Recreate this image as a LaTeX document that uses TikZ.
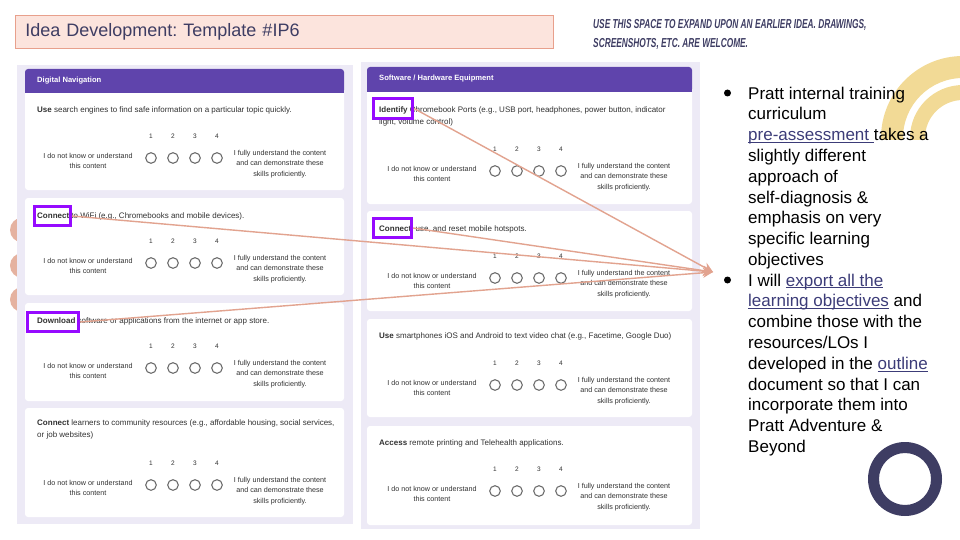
\documentclass[tikz,border=0pt]{standalone}
\usepackage{fontspec}
\setmainfont{Liberation Sans}
\newfontfamily\capfont[FakeStretch=0.64]{Liberation Sans}
\usetikzlibrary{arrows.meta}
\frenchspacing

\definecolor{panelbg}{RGB}{237,234,246}
\definecolor{headpurple}{RGB}{95,68,172}
\definecolor{hilite}{RGB}{150,10,255}
\definecolor{arrowsalmon}{RGB}{226,163,143}
\definecolor{blush}{RGB}{229,178,160}
\definecolor{titlefill}{RGB}{252,228,221}
\definecolor{titleline}{RGB}{232,160,140}
\definecolor{navy}{RGB}{62,61,99}
\definecolor{gold}{RGB}{242,218,150}
\definecolor{linkblue}{RGB}{60,60,120}
\definecolor{formtext}{RGB}{50,50,50}
\definecolor{radiogray}{RGB}{110,110,110}

% underlined link text
\newcommand{\lnk}[1]{\textcolor{linkblue}{\setbox0\hbox{#1}\rlap{\rule[-2.2pt]{\wd0}{0.8pt}}\box0}}

\tikzset{
  card/.style={fill=white, rounded corners=3pt},
  headtext/.style={anchor=west, inner sep=0, text=white, font=\fontsize{7.6}{9}\selectfont\bfseries},
  question/.style={anchor=west, inner sep=0, align=left, text=formtext, font=\fontsize{8}{12}\selectfont},
  scalenum/.style={inner sep=0, text=formtext, font=\fontsize{6.5}{8}\selectfont},
  radio/.style={draw=radiogray, line width=1.1pt},
  lowlabel/.style={inner sep=0, align=center, text=formtext, font=\fontsize{7.2}{10.2}\selectfont},
  highlabel/.style={inner sep=0, align=center, text=formtext, font=\fontsize{7.2}{10.2}\selectfont},
  hibox/.style={draw=hilite, line width=3pt, inner sep=0},
  pointer/.style={draw=arrowsalmon, line width=1.4pt, -{Stealth[length=10pt, width=10pt]}},
  bullettext/.style={inner sep=0, align=left, font=\fontsize{17}{20.8}\selectfont},
  dot/.style={circle, fill=black, inner sep=0, minimum size=7pt}
}

% one row of the 1-4 rating scale: #1 name prefix, #2 left edge of card, #3 y of radio buttons
\newcommand{\ratingrow}[3]{%
  \node[scalenum] (#1one)   at (#2+126,#3-22) {1};
  \node[scalenum] (#1two)   at (#2+148,#3-22) {2};
  \node[scalenum] (#1three) at (#2+170,#3-22) {3};
  \node[scalenum] (#1four)  at (#2+192,#3-22) {4};
  \draw[radio] (#2+126,#3) circle (5.3) (#2+148,#3) circle (5.3)
               (#2+170,#3) circle (5.3) (#2+192,#3) circle (5.3);
  \node[lowlabel]  (#1low)  at (#2+63,#3+3) {I do not know or understand\\this content};
  \node[highlabel] (#1high) at (#2+255,#3+6) {I fully understand the content\\and can demonstrate these\\skills proficiently.};
}

\begin{document}
\begin{tikzpicture}[x=1pt,y=-1pt]
	\useasboundingbox (0,0) rectangle (960,540);

	%blush circles behind the left panel
	\fill[blush] (22.5,230) circle (12.5);
	\fill[blush] (22.5,265.5) circle (12.5);
	\fill[blush] (22.5,299.5) circle (12.5);

	%gold arcs
	\begin{scope}
		\clip (860,40) rectangle (960,140);
		\fill[gold, even odd rule] (963,138) circle (82) (963,138) circle (60);
		\fill[gold, even odd rule] (963,138) circle (53) (963,138) circle (38);
	\end{scope}

	%navy ring
	\fill[navy, even odd rule] (905,479) circle (37) (905,479) circle (26);

	%title
	\node[anchor=north west, fill=titlefill, draw=titleline, line width=0.8pt, text width=518pt, inner xsep=10pt, inner ysep=0, minimum height=33pt, text=navy, font=\fontsize{18}{22}\selectfont] (title) at (15,15) {Idea Development: Template \#IP6};

	%caption
	\node[anchor=north west, inner sep=0, align=left, text=navy, font=\capfont\bfseries\itshape\fontsize{13}{19}\selectfont] (hint) at (593,19) {USE THIS SPACE TO EXPAND UPON AN EARLIER IDEA. DRAWINGS,\\SCREENSHOTS, ETC. ARE WELCOME.};

	%left panel
	\fill[panelbg] (17,65) rectangle (353,524);
	\fill[card] (25,69) rectangle (344,190);
	\fill[headpurple, rounded corners=3pt] (25,69) rectangle (344,93);
	\fill[headpurple] (25,82) rectangle (344,93);
	\fill[card] (25,198) rectangle (344,295);
	\fill[card] (25,303) rectangle (344,401);
	\fill[card] (25,408) rectangle (344,517);
	\node[headtext] (digiHead) at (37,81) {Digital Navigation};
	\node[question] (useSearch) at (37,110) {\textbf{Use} search engines to find safe information on a particular topic quickly.};
	\ratingrow{search}{25}{158}
	\node[question] (connectWifi) at (37,216) {\textbf{Connect} to WiFi (e.g., Chromebooks and mobile devices).};
	\ratingrow{wifi}{25}{263}
	\node[question] (download) at (37,321) {\textbf{Download} software or applications from the internet or app store.};
	\ratingrow{apps}{25}{368}
	\node[question, anchor=north west] (connectLearners) at (37,419.5) {\textbf{Connect} learners to community resources (e.g., affordable housing, social services,\\or job websites)};
	\ratingrow{community}{25}{485}

	%right panel
	\fill[panelbg] (361,62) rectangle (700,529);
	\fill[card] (367,67) rectangle (692,204);
	\fill[headpurple, rounded corners=3pt] (367,67) rectangle (692,92);
	\fill[headpurple] (367,80) rectangle (692,92);
	\fill[card] (367,211) rectangle (692,311);
	\fill[card] (367,319) rectangle (692,417);
	\fill[card] (367,426) rectangle (692,525);
	\node[headtext] (equipHead) at (379,79) {Software / Hardware Equipment};
	\node[question, anchor=north west] (identifyPorts) at (379,106.5) {\textbf{Identify} Chromebook Ports (e.g., USB port, headphones, power button, indicator\\light, volume control)};
	\ratingrow{ports}{369}{171}
	\node[question] (connectHotspot) at (379,229) {\textbf{Connect}, use, and reset mobile hotspots.};
	\ratingrow{hotspot}{369}{278}
	\node[question] (useSmartphone) at (379,336) {\textbf{Use} smartphones iOS and Android to text video chat (e.g., Facetime, Google Duo)};
	\ratingrow{chat}{369}{385}
	\node[question] (accessPrint) at (379,443) {\textbf{Access} remote printing and Telehealth applications.};
	\ratingrow{tele}{369}{491}

	%highlight boxes
	\node[hibox, minimum width=39pt, minimum height=20pt] (identifyBox) at (393,108.5) {};
	\node[hibox, minimum width=38pt, minimum height=19pt] (connectHotspotBox) at (392.5,228) {};
	\node[hibox, minimum width=36pt, minimum height=19pt] (connectWifiBox) at (52.5,216) {};
	\node[hibox, minimum width=51pt, minimum height=19pt] (downloadBox) at (53,322) {};

	%bullets
	\node[dot] (bulletA) at (727.5,93) {};
	\node[bullettext, anchor=north west] (pointA) at (748,86.5) {Pratt internal training\\curriculum\\\lnk{pre-assessment }takes a\\slightly different\\approach of\\self-diagnosis \&\\emphasis on very\\specific learning\\objectives};
	\node[dot] (bulletB) at (727.5,280) {};
	\node[bullettext, anchor=north west] (pointB) at (748,273.5) {I will \lnk{export all the}\\\lnk{learning objectives} and\\combine those with the\\resources/LOs I\\developed in the \lnk{outline}\\document so that I can\\incorporate them into\\Pratt Adventure \&\\Beyond};

	%arrows
	\coordinate (hub) at (713,272);
	\draw[pointer] (identifyBox.east) -- (hub);
	\draw[pointer] (connectHotspotBox.east) -- (hub);
	\draw[pointer] (connectWifiBox.east) -- (hub);
	\draw[pointer] (downloadBox.east) -- (hub);

\end{tikzpicture}
\end{document}
